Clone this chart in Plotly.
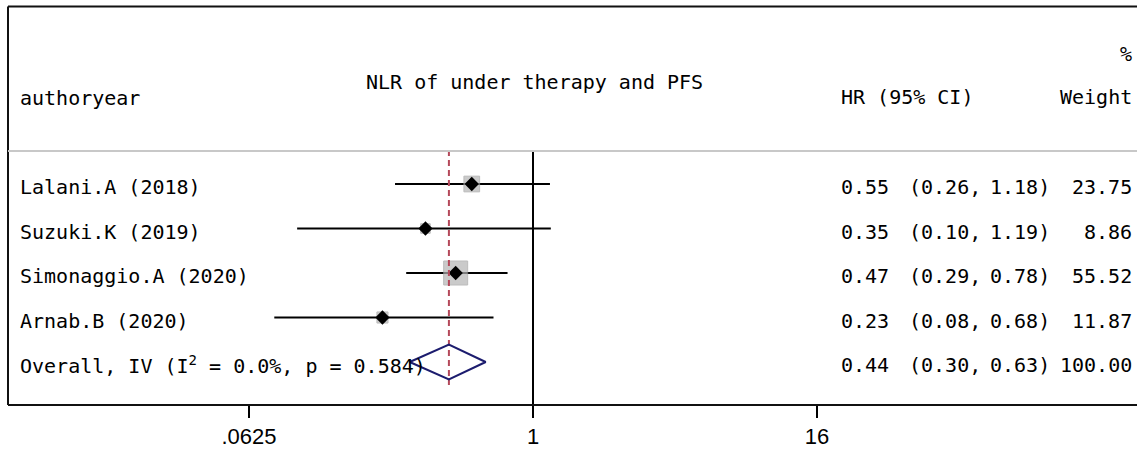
import math
import plotly.graph_objects as go

# ---------------- data ----------------
studies = ["Lalani.A (2018)", "Suzuki.K (2019)", "Simonaggio.A (2020)", "Arnab.B (2020)"]
hr = [0.55, 0.35, 0.47, 0.23]
ci_lo = [0.26, 0.10, 0.29, 0.08]
ci_hi = [1.18, 1.19, 0.78, 0.68]
weights = [23.75, 8.86, 55.52, 11.87]

overall_label = "Overall, IV (I<sup>2</sup> = 0.0%, p = 0.584)"
overall_hr = 0.44
overall_lo = 0.30
overall_hi = 0.63
overall_w = 100.00

title_text = "NLR of under therapy and PFS"
tick_vals = [0.0625, 1, 16]
tick_text = [".0625", "1", "16"]

# ---------------- layout geometry ----------------
W, H = 1137, 450
X_NULL = 533          # pixel of HR = 1
PX_PER_LOG2 = 71      # pixels per doubling
ROW0 = 184            # pixel y of first row
ROW_STEP = 44.5       # pixel spacing between rows

def px_x(px):
    return px / W

def py_y(py):
    return 1 - py / H

def row_from_py(py):
    return (py - ROW0) / ROW_STEP

x_range = [math.log10(2 ** ((0 - X_NULL) / PX_PER_LOG2)),
           math.log10(2 ** ((W - X_NULL) / PX_PER_LOG2))]
y_range = [row_from_py(H), row_from_py(0)]

MONO = "DejaVu Sans Mono"
FS = 20
BLACK = "#000000"

rows = list(range(len(studies)))
overall_row = len(studies)

fig = go.Figure()

# CI lines
for i in rows:
    fig.add_trace(go.Scatter(x=[ci_lo[i], ci_hi[i]], y=[i, i], mode="lines",
                             line=dict(color=BLACK, width=2), hoverinfo="skip",
                             showlegend=False))

# weight boxes
max_w = max(weights)
box_sizes = [24 * math.sqrt(w / max_w) for w in weights]
fig.add_trace(go.Scatter(x=hr, y=rows, mode="markers",
                         marker=dict(symbol="square", size=box_sizes, color="#b4b4b4",
                                     line=dict(color="#a0a0a0", width=1)),
                         hoverinfo="skip", showlegend=False))
# point estimates
fig.add_trace(go.Scatter(x=hr, y=rows, mode="markers",
                         marker=dict(symbol="diamond", size=11, color=BLACK),
                         hoverinfo="skip", showlegend=False))

# overall dashed line
fig.add_trace(go.Scatter(x=[overall_hr, overall_hr], y=[row_from_py(150), row_from_py(385)],
                         mode="lines", line=dict(color="#b5485a", width=2, dash="6px,4px"),
                         hoverinfo="skip", showlegend=False))

# null line
fig.add_trace(go.Scatter(x=[1, 1], y=[row_from_py(150), row_from_py(405)], mode="lines",
                         line=dict(color=BLACK, width=2), hoverinfo="skip", showlegend=False))

# overall diamond
dh = 17.5 / ROW_STEP
fig.add_trace(go.Scatter(x=[overall_lo, overall_hr, overall_hi, overall_hr, overall_lo],
                         y=[overall_row, overall_row - dh, overall_row, overall_row + dh, overall_row],
                         mode="lines", line=dict(color="#1c1c6e", width=2),
                         hoverinfo="skip", showlegend=False))

annotations = []

def txt(text, x, y, xanchor="left", xref="paper", yref="y", size=FS, family=MONO):
    annotations.append(dict(text=text, x=x, y=y, xref=xref, yref=yref, xanchor=xanchor,
                            yanchor="middle", showarrow=False,
                            font=dict(family=family, size=size, color=BLACK)))

# headers
txt("authoryear", px_x(18), py_y(98), yref="paper")
txt(title_text, px_x(534), py_y(82), xanchor="center", yref="paper")
txt("HR (95% CI)", px_x(839), py_y(97), yref="paper")
txt("Weight", px_x(1134), py_y(97), xanchor="right", yref="paper")
txt("%", px_x(1134), py_y(54), xanchor="right", yref="paper")

all_labels = studies + [overall_label]
all_hr = hr + [overall_hr]
all_lo = ci_lo + [overall_lo]
all_hi = ci_hi + [overall_hi]
all_w = weights + [overall_w]
for i, lab in enumerate(all_labels):
    yy = i + 3 / ROW_STEP
    txt(lab, px_x(18), yy)
    txt(f"{all_hr[i]:.2f}", px_x(839), yy)
    txt(f"({all_lo[i]:.2f},", px_x(907), yy)
    txt(f"{all_hi[i]:.2f})", px_x(988), yy)
    txt(f"{all_w[i]:.2f}", px_x(1134), yy, xanchor="right")

# frame shapes
shapes = [
    dict(type="line", xref="paper", yref="paper", x0=px_x(8), x1=px_x(W + 5),
         y0=py_y(6.5), y1=py_y(6.5), line=dict(color="#111111", width=2)),
    dict(type="line", xref="paper", yref="paper", x0=px_x(8), x1=px_x(8),
         y0=py_y(6.5), y1=py_y(405), line=dict(color="#111111", width=2)),
    dict(type="line", xref="paper", yref="paper", x0=px_x(8), x1=px_x(W + 5),
         y0=py_y(405), y1=py_y(405), line=dict(color="#111111", width=2)),
    dict(type="line", xref="paper", yref="paper", x0=px_x(8), x1=px_x(W + 5),
         y0=py_y(151), y1=py_y(151), line=dict(color="#c8c8c8", width=2)),
]

fig.update_layout(
    width=W, height=H,
    margin=dict(l=0, r=0, t=0, b=0),
    paper_bgcolor="white", plot_bgcolor="white",
    showlegend=False,
    xaxis=dict(type="log", range=x_range, domain=[0, 1], anchor="free", position=py_y(405) ,
               showgrid=False, zeroline=False, showline=False,
               tickmode="array", tickvals=tick_vals, ticktext=tick_text,
               ticks="outside", ticklen=12, tickwidth=2, tickcolor=BLACK,
               tickfont=dict(family="Liberation Sans", size=22, color=BLACK)),
    yaxis=dict(range=y_range, domain=[0, 1], visible=False, showgrid=False, zeroline=False),
    annotations=annotations,
    shapes=shapes,
)

fig.write_html("out.html")
